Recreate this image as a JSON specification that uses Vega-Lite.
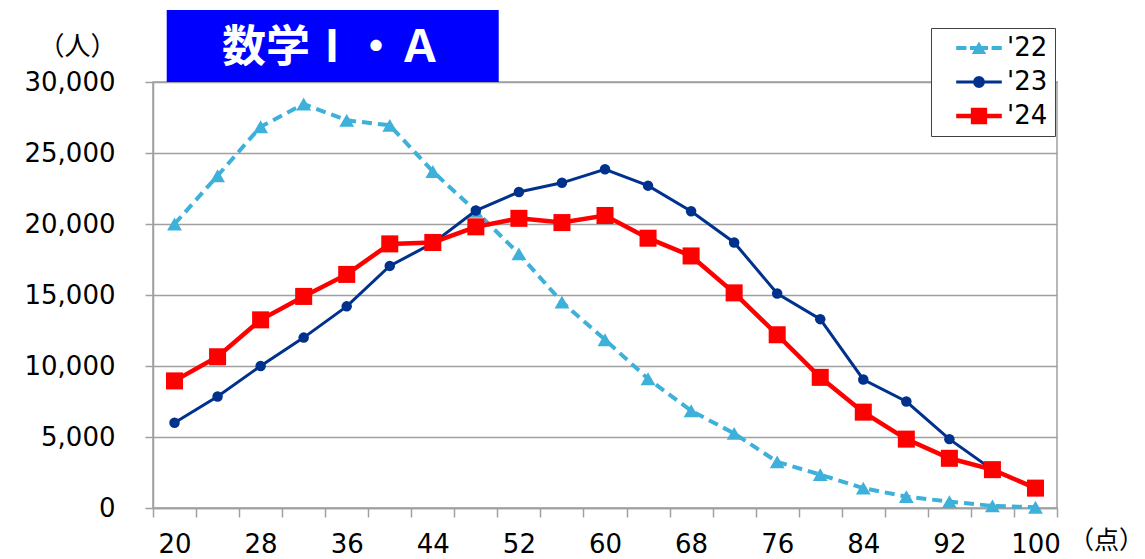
{
  "$schema": "https://vega.github.io/schema/vega-lite/v6.json",
  "width": 904,
  "height": 426,
  "autosize": {"type": "none"},
  "padding": {"left": 153, "top": 82, "right": 88, "bottom": 51},
  "background": "white",
  "config": {"view": {"stroke": "#A0A0A0", "strokeWidth": 1.5}, "font": "DejaVu Sans"},
  "datasets": {
    "banner": [{"title": "数学Ⅰ・Ａ"}],
    "scores": [
      {"score": 20, "year": "'22", "count": 20000}, {"score": 24, "year": "'22", "count": 23400}, {"score": 28, "year": "'22", "count": 26850},
      {"score": 32, "year": "'22", "count": 28450}, {"score": 36, "year": "'22", "count": 27300}, {"score": 40, "year": "'22", "count": 26950},
      {"score": 44, "year": "'22", "count": 23700}, {"score": 48, "year": "'22", "count": 20900}, {"score": 52, "year": "'22", "count": 17900},
      {"score": 56, "year": "'22", "count": 14500}, {"score": 60, "year": "'22", "count": 11850}, {"score": 64, "year": "'22", "count": 9100},
      {"score": 68, "year": "'22", "count": 6850}, {"score": 72, "year": "'22", "count": 5250}, {"score": 76, "year": "'22", "count": 3250},
      {"score": 80, "year": "'22", "count": 2350}, {"score": 84, "year": "'22", "count": 1400}, {"score": 88, "year": "'22", "count": 800},
      {"score": 92, "year": "'22", "count": 450}, {"score": 96, "year": "'22", "count": 150}, {"score": 100, "year": "'22", "count": 50},
      {"score": 20, "year": "'23", "count": 6000}, {"score": 24, "year": "'23", "count": 7850}, {"score": 28, "year": "'23", "count": 10000},
      {"score": 32, "year": "'23", "count": 12000}, {"score": 36, "year": "'23", "count": 14200}, {"score": 40, "year": "'23", "count": 17050},
      {"score": 44, "year": "'23", "count": 18650}, {"score": 48, "year": "'23", "count": 20950}, {"score": 52, "year": "'23", "count": 22250},
      {"score": 56, "year": "'23", "count": 22900}, {"score": 60, "year": "'23", "count": 23850}, {"score": 64, "year": "'23", "count": 22700},
      {"score": 68, "year": "'23", "count": 20900}, {"score": 72, "year": "'23", "count": 18700}, {"score": 76, "year": "'23", "count": 15100},
      {"score": 80, "year": "'23", "count": 13300}, {"score": 84, "year": "'23", "count": 9050}, {"score": 88, "year": "'23", "count": 7500},
      {"score": 92, "year": "'23", "count": 4850}, {"score": 96, "year": "'23", "count": 2700}, {"score": 100, "year": "'23", "count": 1400},
      {"score": 20, "year": "'24", "count": 8950}, {"score": 24, "year": "'24", "count": 10650}, {"score": 28, "year": "'24", "count": 13250},
      {"score": 32, "year": "'24", "count": 14900}, {"score": 36, "year": "'24", "count": 16450}, {"score": 40, "year": "'24", "count": 18600},
      {"score": 44, "year": "'24", "count": 18700}, {"score": 48, "year": "'24", "count": 19800}, {"score": 52, "year": "'24", "count": 20400},
      {"score": 56, "year": "'24", "count": 20100}, {"score": 60, "year": "'24", "count": 20600}, {"score": 64, "year": "'24", "count": 19000},
      {"score": 68, "year": "'24", "count": 17750}, {"score": 72, "year": "'24", "count": 15150}, {"score": 76, "year": "'24", "count": 12200},
      {"score": 80, "year": "'24", "count": 9200}, {"score": 84, "year": "'24", "count": 6750}, {"score": 88, "year": "'24", "count": 4850},
      {"score": 92, "year": "'24", "count": 3500}, {"score": 96, "year": "'24", "count": 2700}, {"score": 100, "year": "'24", "count": 1400}
    ]
  },
  "layer": [
    {
      "data": {"name": "scores"},
      "mark": {"type": "point", "filled": true, "opacity": 0},
      "encoding": {
        "x": {
          "field": "score", "type": "ordinal", "bandPosition": 0.5,
          "scale": {"type": "band", "paddingInner": 0, "paddingOuter": 0},
          "axis": {
            "title": "（点）", "titleX": 953, "titleY": 32, "titleAlign": "center", "titleBaseline": "middle",
            "titleFont": "Noto Sans CJK JP", "titleFontSize": 25, "titleFontWeight": "normal", "titleColor": "black",
            "labelAngle": 0, "labelExpr": "datum.value % 8 == 4 ? datum.label : ''", "labelOverlap": false,
            "labelFont": "DejaVu Sans", "labelFontSize": 26, "labelColor": "black", "labelPadding": 14,
            "tickBand": "extent", "tickSize": 9, "tickColor": "#A0A0A0", "tickWidth": 1.5,
            "domainColor": "#A0A0A0", "domainWidth": 1.5, "grid": false
          }
        },
        "y": {
          "field": "count", "type": "quantitative",
          "scale": {"domain": [0, 30000]},
          "axis": {
            "title": "（人）", "titleAngle": 0, "titleX": -76, "titleY": -36, "titleAlign": "center", "titleBaseline": "middle",
            "titleFont": "Noto Sans CJK JP", "titleFontSize": 26, "titleFontWeight": "normal", "titleColor": "black",
            "values": [0, 5000, 10000, 15000, 20000, 25000, 30000], "format": ",.0f",
            "labelFont": "DejaVu Sans", "labelFontSize": 26, "labelColor": "black", "labelPadding": 30,
            "tickSize": 8, "tickColor": "#A0A0A0", "tickWidth": 1.5,
            "domainColor": "#A0A0A0", "domainWidth": 1.5,
            "grid": true, "gridColor": "#A0A0A0", "gridWidth": 1.5
          }
        },
        "color": {
          "field": "year", "type": "nominal",
          "scale": {"domain": ["'22", "'23", "'24"], "range": ["#3DB1DA", "#00318C", "#FF0000"]},
          "legend": {
            "title": null, "orient": "none", "legendX": 778, "legendY": -54,
            "fillColor": "white", "strokeColor": "#404040", "padding": 7, "rowPadding": 8,
            "labelFont": "DejaVu Sans", "labelFontSize": 26, "labelColor": "black", "labelOffset": 15,
            "symbolSize": 576, "symbolOffset": 28, "symbolOpacity": 1, "symbolStrokeWidth": 0
          }
        },
        "shape": {
          "field": "year", "type": "nominal",
          "scale": {
            "domain": ["'22", "'23", "'24"],
            "range": [
              "M-1.9,-0.17H-1.05V0.17H-1.9ZM-0.75,-0.17H0.75V0.17H-0.75ZM1.05,-0.17H1.9V0.17H1.05ZM-0.6,0.5L0,-0.55L0.6,0.5Z",
              "M-1.9,-0.125H1.9V0.125H-1.9ZM0.5,0L0.433,0.25L0.25,0.433L0,0.5L-0.25,0.433L-0.433,0.25L-0.5,0L-0.433,-0.25L-0.25,-0.433L0,-0.5L0.25,-0.433L0.433,-0.25Z",
              "M-1.9,-0.19H1.9V0.19H-1.9ZM-0.68,-0.68H0.68V0.68H-0.68Z"
            ]
          },
          "legend": {
            "title": null, "orient": "none", "legendX": 778, "legendY": -54,
            "fillColor": "white", "strokeColor": "#404040", "padding": 7, "rowPadding": 8,
            "labelFont": "DejaVu Sans", "labelFontSize": 26, "labelColor": "black", "labelOffset": 15,
            "symbolSize": 576, "symbolOffset": 28, "symbolOpacity": 1, "symbolStrokeWidth": 0
          }
        }
      }
    },
    {
      "data": {"name": "scores"},
      "transform": [{"filter": {"field": "year", "equal": "'22"}}],
      "mark": {"type": "line", "color": "#3DB1DA", "strokeWidth": 4, "strokeDash": [10, 6], "point": {"shape": "triangle-up", "size": 220, "filled": true, "opacity": 1, "color": "#3DB1DA"}},
      "encoding": {
        "x": {"field": "score", "type": "ordinal", "bandPosition": 0.5},
        "y": {"field": "count", "type": "quantitative"}
      }
    },
    {
      "data": {"name": "scores"},
      "transform": [{"filter": {"field": "year", "equal": "'23"}}],
      "mark": {"type": "line", "color": "#00318C", "strokeWidth": 3, "point": {"shape": "circle", "size": 110, "filled": true, "opacity": 1, "color": "#00318C"}},
      "encoding": {
        "x": {"field": "score", "type": "ordinal", "bandPosition": 0.5},
        "y": {"field": "count", "type": "quantitative"}
      }
    },
    {
      "data": {"name": "scores"},
      "transform": [{"filter": {"field": "year", "equal": "'24"}}],
      "mark": {"type": "line", "color": "#FF0000", "strokeWidth": 4.5, "point": {"shape": "square", "size": 290, "filled": true, "opacity": 1, "color": "#FF0000"}},
      "encoding": {
        "x": {"field": "score", "type": "ordinal", "bandPosition": 0.5},
        "y": {"field": "count", "type": "quantitative"}
      }
    },
    {
      "data": {"name": "banner"},
      "mark": {"type": "rect", "color": "#0000FF", "opacity": 1, "width": 332, "xOffset": -14},
      "encoding": {
        "x": {"datum": 36, "type": "ordinal", "bandPosition": 0.16},
        "y": {"datum": 30000, "type": "quantitative"},
        "y2": {"datum": 35070}
      }
    },
    {
      "data": {"name": "banner"},
      "mark": {"type": "text", "color": "white", "fontSize": 44, "fontWeight": "bold", "font": "Noto Sans CJK JP", "align": "center", "baseline": "middle"},
      "encoding": {
        "x": {"datum": 36, "type": "ordinal", "bandPosition": 0.16},
        "y": {"datum": 32350, "type": "quantitative"},
        "text": {"field": "title"}
      }
    }
  ]
}
